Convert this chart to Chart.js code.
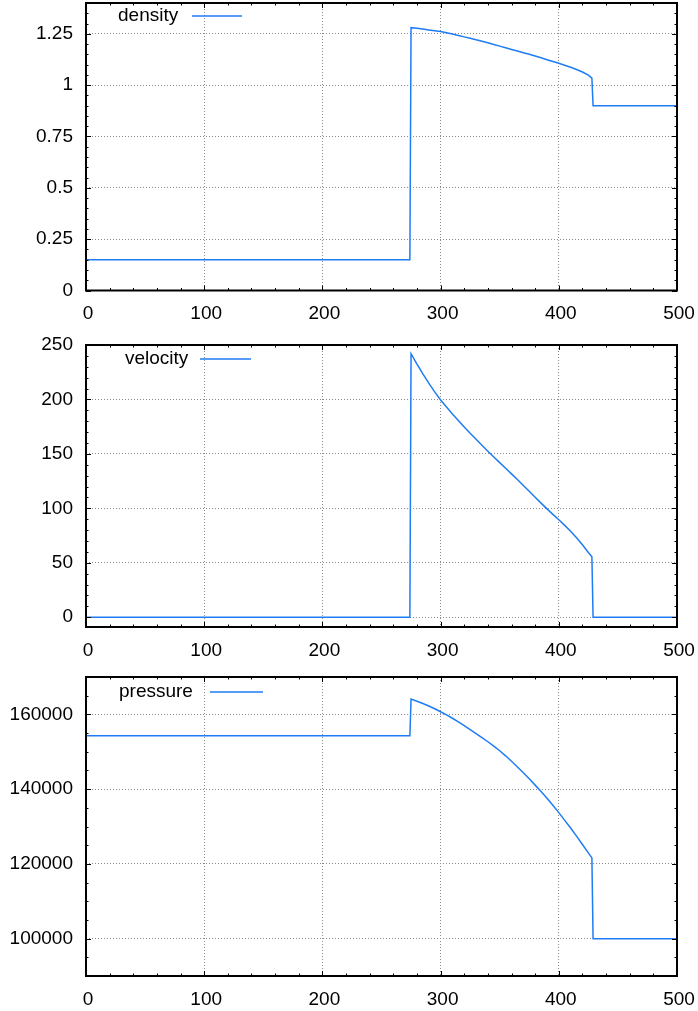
<!DOCTYPE html>
<html>
<head>
<meta charset="utf-8">
<script src="https://cdn.jsdelivr.net/npm/chart.js@4.4.0/dist/chart.umd.min.js"></script>
<style>
html, body { margin: 0; padding: 0; background: #fff; }
.panel { position: absolute; left: 0; width: 698px; }
</style>
</head>
<body>
<div class="panel" style="top:0px;height:330px"><canvas id="densityChart"></canvas></div>
<div class="panel" style="top:330px;height:330px"><canvas id="velocityChart"></canvas></div>
<div class="panel" style="top:660px;height:351px"><canvas id="pressureChart"></canvas></div>
<script>
// positions along the tube, shared by the three profiles
const xPos = [0, 274, 275, 280, 285, 290, 295, 300, 305, 310, 315, 320, 325, 330, 335, 340, 345, 350, 355, 360,
    365, 370, 375, 380, 385, 390, 395, 400, 405, 410, 415, 420, 425, 428, 429, 500];

const densityVals = [0.15, 0.15, 1.280, 1.277, 1.273, 1.269, 1.265, 1.261, 1.255, 1.249, 1.242, 1.235, 1.228, 1.221,
    1.2135, 1.206, 1.198, 1.190, 1.182, 1.174, 1.166, 1.158, 1.150, 1.1415, 1.133, 1.124, 1.1155, 1.1065, 1.097,
    1.087, 1.076, 1.064, 1.049, 1.034, 0.9, 0.9];
const velocityVals = [0, 0, 242.0, 232.5, 223.5, 215.0, 207.0, 199.5, 193.0, 186.7, 180.6, 174.7, 169.0, 163.4,
    157.9, 152.5, 147.2, 142.0, 136.8, 131.6, 126.4, 121.0, 115.6, 110.2, 104.8, 99.5, 94.4, 89.5, 84.3,
    78.9, 73.0, 66.5, 59.5, 55.5, 0, 0];
const pressureVals = [154300, 154300, 164100, 163530, 162910, 162230, 161500, 160710, 159860, 158960, 158000,
    156990, 155930, 154880, 153800, 152680, 151500, 150260, 148910, 147450, 145940, 144370, 142750, 141070,
    139340, 137550, 135660, 133710, 131650, 129590, 127420, 125200, 122930, 121600, 100000, 100000];

// tick labels
const xTicks = [0, 100, 200, 300, 400, 500];
const densityTicks = [0, 0.25, 0.5, 0.75, 1, 1.25];
const velocityTicks = [0, 50, 100, 150, 200, 250];
const pressureTicks = [100000, 120000, 140000, 160000];

const lineColor = '#1f7cf5';
const font = {family: '"Liberation Sans", Arial, sans-serif', size: 19};

// gnuplot-like frame: box border plus inward major/minor tick marks on all four sides
const framePlugin = {
    id: 'frame',
    afterDatasetsDraw(chart, args, opts) {
        const ctx = chart.ctx;
        const a = chart.chartArea;
        const x = chart.scales.x, y = chart.scales.y;
        ctx.save();
        ctx.strokeStyle = '#000';
        ctx.lineWidth = 1;
        ctx.beginPath();
        for (let i = 0; i <= 25; i++) {
            const v = i * 20;
            const px = Math.round(x.getPixelForValue(v)) + 0.5;
            const len = v % 100 === 0 ? 5 : 2.5;
            ctx.moveTo(px, a.bottom); ctx.lineTo(px, a.bottom - len);
            ctx.moveTo(px, a.top); ctx.lineTo(px, a.top + len);
        }
        const first = Math.ceil(y.min / opts.minor - 1e-9);
        const last = Math.floor(y.max / opts.minor + 1e-9);
        for (let i = first; i <= last; i++) {
            const v = i * opts.minor;
            const py = Math.round(y.getPixelForValue(v)) + 0.5;
            const major = opts.major.some(m => Math.abs(m - v) < opts.minor / 100);
            const len = major ? 5 : 2.5;
            ctx.moveTo(a.left, py); ctx.lineTo(a.left + len, py);
            ctx.moveTo(a.right, py); ctx.lineTo(a.right - len, py);
        }
        ctx.stroke();
        ctx.lineWidth = 2;
        ctx.strokeRect(a.left, a.top, a.right - a.left, a.bottom - a.top);

        // key inside the top left corner
        const k = opts.key;
        ctx.fillStyle = '#000';
        ctx.font = font.size + 'px ' + font.family;
        ctx.textAlign = 'left';
        ctx.textBaseline = 'middle';
        ctx.fillText(chart.data.datasets[0].label, k.textX, k.y);
        ctx.strokeStyle = lineColor;
        ctx.lineWidth = 1.5;
        ctx.beginPath();
        ctx.moveTo(k.lineX1, k.y); ctx.lineTo(k.lineX2, k.y);
        ctx.stroke();
        ctx.restore();
    }
};

function makeChart(id, label, values, yMin, yMax, yTicks, yMinor, padTop, xAxisH, key) {
    const points = xPos.map((v, i) => ({x: v, y: values[i]}));
    return new Chart(document.getElementById(id), {
        type: 'line',
        data: {
            datasets: [{
                label: label,
                data: points,
                borderColor: lineColor,
                borderWidth: 1.5,
                pointRadius: 0,
                tension: 0,
                fill: false
            }]
        },
        options: {
            responsive: true,
            maintainAspectRatio: false,
            animation: false,
            events: [],
            layout: {padding: {left: 0, right: 21, top: padTop, bottom: 0}},
            plugins: {
                legend: {display: false},
                tooltip: {enabled: false},
                frame: {minor: yMinor, major: yTicks, key: key}
            },
            scales: {
                x: {
                    type: 'linear',
                    min: 0, max: 500,
                    afterBuildTicks: s => { s.ticks = xTicks.map(v => ({value: v})); },
                    afterFit: s => { s.height = xAxisH; s.paddingLeft = 0; s.paddingRight = 0; },
                    ticks: {color: '#000', font: font, padding: 12, labelOffset: 2, maxRotation: 0, callback: v => String(v)},
                    grid: {color: '#8a8a8a', lineWidth: 1, drawTicks: false},
                    border: {display: false, dash: [1, 2]}
                },
                y: {
                    type: 'linear',
                    min: yMin, max: yMax,
                    afterBuildTicks: s => { s.ticks = yTicks.map(v => ({value: v})); },
                    afterFit: s => { s.width = 86; s.paddingTop = 0; s.paddingBottom = 0; },
                    ticks: {color: '#000', font: font, padding: 13, callback: v => String(v)},
                    grid: {color: '#8a8a8a', lineWidth: 1, drawTicks: false},
                    border: {display: false, dash: [1, 2]}
                }
            }
        },
        plugins: [framePlugin]
    });
}

makeChart('densityChart', 'density', densityVals, 0, 1.4, densityTicks, 0.05, 3, 39.5,
    {textX: 118, lineX1: 192, lineX2: 242, y: 16});
makeChart('velocityChart', 'velocity', velocityVals, -9, 250, velocityTicks, 10, 15, 33,
    {textX: 125, lineX1: 200, lineX2: 251, y: 29});
makeChart('pressureChart', 'pressure', pressureVals, 90000, 170000, pressureTicks, 5000, 17, 35,
    {textX: 119, lineX1: 210, lineX2: 263, y: 32});
</script>
</body>
</html>
